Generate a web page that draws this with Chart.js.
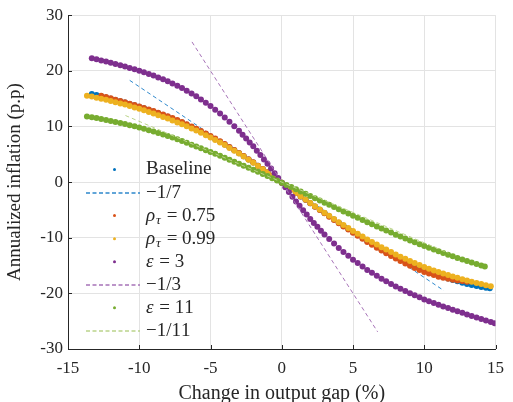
<!DOCTYPE html>
<html>
<head>
<meta charset="utf-8">
<script src="https://cdn.jsdelivr.net/npm/chart.js@4.4.1/dist/chart.umd.min.js"></script>
<style>
  body { margin: 0; background: #fff; }
  canvas { display: block; }
</style>
</head>
<body>
<canvas id="myChart" width="513" height="402"></canvas>
<script>
// values (output gap %, annualized inflation p.p.)
var baselineX = [-13.33,-13,-12.67,-12.33,-12,-11.67,-11.33,-11,-10.67,-10.33,-10,-9.67,-9.33,-9,-8.67,-8.33,-8,-7.67,-7.33,-7,-6.67,-6.33,-6,-5.67,-5.33,-5,-4.67,-4.33,-4,-3.67,-3.33,-3,-2.67,-2.33,-2,-1.67,-1.33,-1,-0.67,-0.33,0,0.33,0.67,1,1.33,1.67,2,2.33,2.67,3,3.33,3.67,4,4.33,4.67,5,5.33,5.67,6,6.33,6.67,7,7.33,7.67,8,8.33,8.67,9,9.33,9.67,10,10.33,10.67,11,11.33,11.67,12,12.33,12.67,13,13.33,13.67,14,14.33,14.6];
var baselineY = [15.85,15.65,15.43,15.22,15.0,14.77,14.53,14.3,14.05,13.8,13.55,13.27,12.98,12.7,12.38,12.07,11.75,11.4,11.05,10.7,10.3,9.9,9.5,9.07,8.63,8.2,7.73,7.25,6.78,6.25,5.73,5.2,4.64,4.08,3.52,2.93,2.33,1.74,1.13,0.51,-0.1,-0.72,-1.34,-1.96,-2.57,-3.17,-3.78,-4.37,-4.97,-5.56,-6.14,-6.72,-7.3,-7.87,-8.43,-9.0,-9.53,-10.07,-10.6,-11.1,-11.6,-12.1,-12.55,-13.0,-13.45,-13.87,-14.28,-14.7,-15.07,-15.43,-15.8,-16.13,-16.47,-16.8,-17.07,-17.33,-17.6,-17.83,-18.07,-18.3,-18.48,-18.67,-18.85,-18.98,-19.08];

var rho075X = [-12.67,-12.33,-12,-11.67,-11.33,-11,-10.67,-10.33,-10,-9.67,-9.33,-9,-8.67,-8.33,-8,-7.67,-7.33,-7,-6.67,-6.33,-6,-5.67,-5.33,-5,-4.67,-4.33,-4,-3.67,-3.33,-3,-2.67,-2.33,-2,-1.67,-1.33,-1,-0.67,-0.33,0,0.33,0.67,1,1.33,1.67,2,2.33,2.67,3,3.33,3.67,4,4.33,4.67,5,5.33,5.67,6,6.33,6.67,7,7.33,7.67,8,8.33,8.67,9,9.33,9.67,10,10.33,10.67,11,11.33,11.67,12,12.33,12.67,13];
var rho075Y = [15.52,15.28,15.05,14.82,14.58,14.35,14.1,13.85,13.6,13.33,13.07,12.8,12.48,12.17,11.85,11.5,11.15,10.8,10.4,10.0,9.6,9.17,8.73,8.3,7.82,7.33,6.85,6.32,5.78,5.25,4.68,4.12,3.55,2.95,2.35,1.75,1.13,0.52,-0.1,-0.72,-1.35,-1.97,-2.58,-3.19,-3.8,-4.41,-5.01,-5.62,-6.21,-6.81,-7.4,-7.97,-8.53,-9.1,-9.65,-10.2,-10.75,-11.27,-11.78,-12.3,-12.78,-13.27,-13.75,-14.18,-14.62,-15.05,-15.42,-15.78,-16.15,-16.43,-16.72,-17.0,-17.18,-17.37,-17.55,-17.67,-17.78,-17.9];

var rho099X = [-13.67,-13.33,-13,-12.67,-12.33,-12,-11.67,-11.33,-11,-10.67,-10.33,-10,-9.67,-9.33,-9,-8.67,-8.33,-8,-7.67,-7.33,-7,-6.67,-6.33,-6,-5.67,-5.33,-5,-4.67,-4.33,-4,-3.67,-3.33,-3,-2.67,-2.33,-2,-1.67,-1.33,-1,-0.67,-0.33,0,0.33,0.67,1,1.33,1.67,2,2.33,2.67,3,3.33,3.67,4,4.33,4.67,5,5.33,5.67,6,6.33,6.67,7,7.33,7.67,8,8.33,8.67,9,9.33,9.67,10,10.33,10.67,11,11.33,11.67,12,12.33,12.67,13,13.33,13.67,14,14.33,14.67];
var rho099Y = [15.5,15.37,15.17,14.98,14.78,14.59,14.37,14.15,13.93,13.68,13.43,13.18,12.9,12.62,12.34,12.03,11.72,11.41,11.07,10.73,10.39,10.02,9.64,9.27,8.85,8.44,8.03,7.57,7.11,6.65,6.14,5.63,5.13,4.58,4.03,3.48,2.89,2.31,1.73,1.12,0.51,-0.1,-0.72,-1.33,-1.95,-2.55,-3.15,-3.75,-4.33,-4.92,-5.5,-6.07,-6.63,-7.2,-7.73,-8.27,-8.8,-9.3,-9.8,-10.3,-10.77,-11.23,-11.7,-12.13,-12.57,-13.0,-13.4,-13.8,-14.2,-14.55,-14.9,-15.25,-15.56,-15.87,-16.18,-16.44,-16.71,-16.98,-17.21,-17.45,-17.69,-17.9,-18.12,-18.33,-18.53,-18.73];

var eps3X = [-13.33,-13,-12.67,-12.33,-12,-11.67,-11.33,-11,-10.67,-10.33,-10,-9.67,-9.33,-9,-8.67,-8.33,-8,-7.67,-7.33,-7,-6.67,-6.33,-6,-5.67,-5.33,-5,-4.67,-4.33,-4,-3.67,-3.33,-3,-2.75,-2.5,-2.25,-2,-1.75,-1.5,-1.25,-1,-0.75,-0.5,-0.25,0,0.25,0.5,0.75,1,1.25,1.5,1.75,2,2.25,2.5,2.75,3,3.33,3.67,4,4.33,4.67,5,5.33,5.67,6,6.33,6.67,7,7.33,7.67,8,8.33,8.67,9,9.33,9.67,10,10.33,10.67,11,11.33,11.67,12,12.33,12.67,13,13.33,13.67,14,14.33,14.67,14.94];
var eps3Y = [22.28,22.08,21.87,21.66,21.45,21.23,21.0,20.78,20.53,20.28,20.03,19.73,19.44,19.15,18.81,18.47,18.13,17.72,17.31,16.9,16.41,15.92,15.43,14.84,14.26,13.68,12.99,12.31,11.63,10.83,10.03,9.23,8.53,7.83,7.13,6.43,5.64,4.85,4.06,3.28,2.43,1.59,0.74,-0.1,-0.94,-1.79,-2.63,-3.48,-4.26,-5.05,-5.84,-6.63,-7.33,-8.03,-8.73,-9.43,-10.24,-11.04,-11.85,-12.55,-13.25,-13.95,-14.56,-15.17,-15.78,-16.31,-16.84,-17.38,-17.84,-18.31,-18.78,-19.18,-19.59,-20.0,-20.36,-20.72,-21.08,-21.4,-21.72,-22.04,-22.34,-22.63,-22.93,-23.22,-23.5,-23.79,-24.06,-24.34,-24.62,-24.89,-25.16,-25.38];

var eps11X = [-13.67,-13.33,-13,-12.67,-12.33,-12,-11.67,-11.33,-11,-10.67,-10.33,-10,-9.67,-9.33,-9,-8.67,-8.33,-8,-7.67,-7.33,-7,-6.67,-6.33,-6,-5.67,-5.33,-5,-4.67,-4.33,-4,-3.67,-3.33,-3,-2.67,-2.33,-2,-1.67,-1.33,-1,-0.67,-0.33,0,0.33,0.67,1,1.33,1.67,2,2.33,2.67,3,3.33,3.67,4,4.33,4.67,5,5.33,5.67,6,6.33,6.67,7,7.33,7.67,8,8.33,8.67,9,9.33,9.67,10,10.33,10.67,11,11.33,11.67,12,12.33,12.67,13,13.33,13.67,14,14.25];
var eps11Y = [11.8,11.67,11.5,11.33,11.17,11.0,10.82,10.63,10.45,10.23,10.02,9.8,9.57,9.33,9.1,8.83,8.57,8.3,8.0,7.7,7.4,7.06,6.73,6.39,6.07,5.74,5.42,5.08,4.73,4.39,4.03,3.68,3.32,2.95,2.59,2.22,1.84,1.46,1.08,0.69,0.29,-0.1,-0.5,-0.9,-1.3,-1.7,-2.1,-2.5,-2.9,-3.3,-3.7,-4.09,-4.49,-4.88,-5.27,-5.66,-6.05,-6.43,-6.82,-7.2,-7.58,-7.97,-8.35,-8.72,-9.08,-9.45,-9.8,-10.15,-10.5,-10.83,-11.17,-11.5,-11.82,-12.13,-12.45,-12.75,-13.05,-13.35,-13.63,-13.92,-14.2,-14.47,-14.73,-15.0,-15.18];

// first-order approximation lines (end points)
var slope7X = [-10.67, 11.38];
var slope7Y = [18.29, -19.51];
var slope3X = [-6.3, 6.73];
var slope3Y = [25.2, -26.92];
var slope11X = [-10.97, 11.7];
var slope11Y = [11.97, -12.76];

var legendLabels = ['Baseline', '\u22121/7', '\u03c1_\u03c4 = 0.75', '\u03c1_\u03c4 = 0.99', '\u03b5 = 3', '\u22121/3', '\u03b5 = 11', '\u22121/11'];

var xTicks = [-15, -10, -5, 0, 5, 10, 15];
var yTicks = [-30, -20, -10, 0, 10, 20, 30];

var SERIF = '"Liberation Serif", "DejaVu Serif", serif';
var INK = '#262626';
// colour of each entry, in legend order
var seriesColors = ['#0072BD', '#2E88CC', '#D95319', '#EDB120', '#7E2F8E', '#A773B8', '#77AC30', '#BBD48A'];
var isLine = [false, true, false, false, false, true, false, true];

function pts(xs, ys) {
  return xs.map(function (x, i) { return { x: x, y: ys[i] }; });
}

function dots(label, xs, ys, color) {
  return {
    label: label, data: pts(xs, ys), showLine: false,
    backgroundColor: color, borderColor: color, borderWidth: 0, pointRadius: 3, pointHoverRadius: 3
  };
}

function dashed(label, xs, ys, color) {
  return {
    label: label, data: pts(xs, ys), showLine: true, borderColor: color, backgroundColor: color,
    borderWidth: 1, borderDash: [4, 3], pointRadius: 0, fill: false
  };
}

var datasets = [
  dots(legendLabels[0], baselineX, baselineY, seriesColors[0]),
  dashed(legendLabels[1], slope7X, slope7Y, seriesColors[1]),
  dots(legendLabels[2], rho075X, rho075Y, seriesColors[2]),
  dots(legendLabels[3], rho099X, rho099Y, seriesColors[3]),
  dots(legendLabels[4], eps3X, eps3Y, seriesColors[4]),
  dashed(legendLabels[5], slope3X, slope3Y, seriesColors[5]),
  dots(legendLabels[6], eps11X, eps11Y, seriesColors[6]),
  dashed(legendLabels[7], slope11X, slope11Y, seriesColors[7])
];
// matlab draws later series on top
datasets.forEach(function (d, i) { d.order = datasets.length - i; });

// text with italic greek letters and "_" subscripts
function drawMath(ctx, str, x, y, size) {
  var greek = /[\u03b1-\u03c9]/;
  for (var i = 0; i < str.length; i++) {
    var ch = str[i], sub = false;
    if (ch === '_') { sub = true; ch = str[++i]; }
    var fs = sub ? size * 0.7 : size;
    ctx.font = (greek.test(ch) ? 'italic ' : '') + fs + 'px ' + SERIF;
    ctx.fillText(ch, x, sub ? y + size * 0.28 : y);
    x += ctx.measureText(ch).width + (greek.test(ch) ? 1 : 0);
  }
}

var matlabBits = {
  id: 'matlabBits',
  afterDraw: function (chart) {
    var ctx = chart.ctx, a = chart.chartArea;
    var xs = chart.scales.x, ys = chart.scales.y;
    ctx.save();
    // inward tick marks on left and bottom axes
    ctx.strokeStyle = INK;
    ctx.lineWidth = 1;
    xTicks.forEach(function (v) {
      var px = Math.round(xs.getPixelForValue(v)) + 0.5;
      ctx.beginPath(); ctx.moveTo(px, a.bottom); ctx.lineTo(px, a.bottom - 4); ctx.stroke();
    });
    yTicks.forEach(function (v) {
      var py = Math.round(ys.getPixelForValue(v)) + 0.5;
      ctx.beginPath(); ctx.moveTo(a.left, py); ctx.lineTo(a.left + 4, py); ctx.stroke();
    });

    // legend, no box
    var top = 169.5, step = 23.05;
    legendLabels.forEach(function (label, i) {
      var y = top + i * step;
      if (isLine[i]) {
        var ly = Math.round(y);
        ctx.save();
        ctx.setLineDash([4, 2.5]);
        ctx.lineWidth = 1.5;
        ctx.strokeStyle = seriesColors[i];
        ctx.beginPath(); ctx.moveTo(86, ly); ctx.lineTo(140, ly); ctx.stroke();
        ctx.restore();
      } else {
        ctx.fillStyle = seriesColors[i];
        ctx.beginPath(); ctx.arc(114.5, y, 1.5, 0, Math.PI * 2); ctx.fill();
      }
      ctx.fillStyle = INK;
      ctx.textBaseline = 'middle';
      ctx.textAlign = 'left';
      drawMath(ctx, label, 146, y, 19);
    });
    ctx.restore();
  }
};

var ctx = document.getElementById('myChart');
var myChart = new Chart(ctx, {
  type: 'scatter',
  data: { datasets: datasets },
  plugins: [matlabBits],
  options: {
    responsive: false,
    animation: false,
    events: [],
    layout: { padding: { left: 0, right: 10, top: 15, bottom: 0 } },
    plugins: { legend: { display: false }, tooltip: { enabled: false } },
    scales: {
      x: {
        type: 'linear', min: -15, max: 15,
        afterFit: function (s) { s.height = 53; },
        afterBuildTicks: function (s) { s.ticks = xTicks.map(function (v) { return { value: v }; }); },
        grid: { color: '#e3e3e3', drawTicks: false },
        border: { display: true, color: INK, width: 1 },
        ticks: { color: INK, padding: 9, font: { family: SERIF, size: 17 }, maxRotation: 0, autoSkip: false },
        title: {
          display: true, text: 'Change in output gap (%)', color: INK,
          font: { family: SERIF, size: 20, lineHeight: 1 }, padding: { top: 0, bottom: -2 }
        }
      },
      y: {
        type: 'linear', min: -30, max: 30,
        afterFit: function (s) { s.width = 68; },
        afterBuildTicks: function (s) { s.ticks = yTicks.map(function (v) { return { value: v }; }); },
        grid: { color: '#e3e3e3', drawTicks: false },
        border: { display: true, color: INK, width: 1 },
        ticks: { color: INK, padding: 5, font: { family: SERIF, size: 17 }, autoSkip: false },
        title: {
          display: true, text: 'Annualized inflation (p.p)', color: INK,
          font: { family: SERIF, size: 19, lineHeight: 1 }, padding: { top: 6, bottom: 0 }
        }
      }
    }
  }
});
</script>
</body>
</html>
